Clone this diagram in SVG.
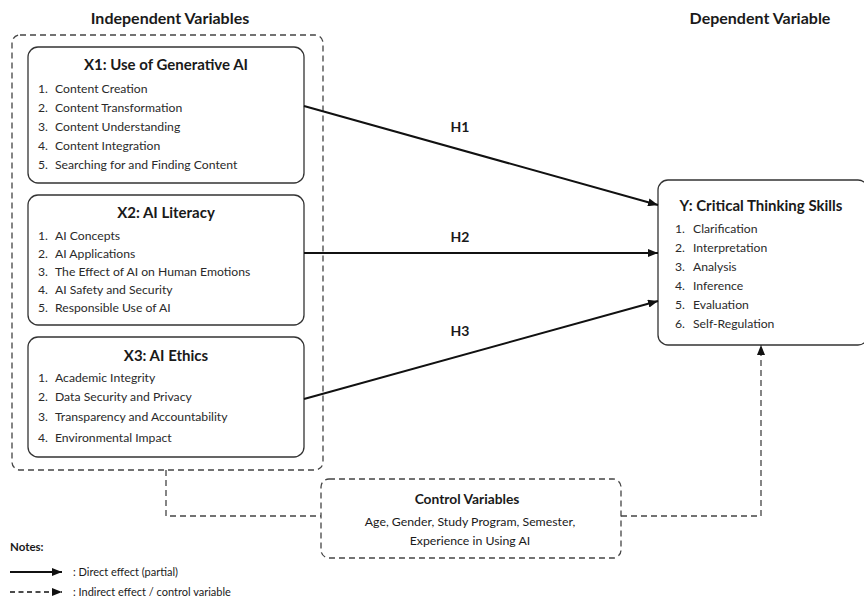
<svg xmlns="http://www.w3.org/2000/svg" width="864" height="599" viewBox="0 0 864 599">
<style>
text{font-family:Lato,"Open Sans","Liberation Sans",sans-serif;fill:#1a1a1a}
.h{font-size:16px;font-weight:bold;text-anchor:middle}
.t{font-size:15px;font-weight:bold;text-anchor:middle}
.i{font-size:12.2px;fill:#2a2a2a}
.lab{font-size:14px;font-weight:bold;text-anchor:middle}
.box{fill:#fff;stroke:#333;stroke-width:1.3}
.dash{fill:none;stroke:#444;stroke-width:1.3;stroke-dasharray:6,4}
.arr{stroke:#111;stroke-width:2;fill:none}
.note{font-size:11px}
</style>
<defs>
<marker id="ah" viewBox="0 0 10 8" refX="10" refY="4" markerWidth="10" markerHeight="8" markerUnits="userSpaceOnUse" orient="auto"><path d="M0,0L10,4L0,8z" fill="#111"/></marker>
</defs>
<rect width="864" height="599" fill="#fff"/>
<text class="h" x="170" y="24">Independent Variables</text>
<text class="h" x="760" y="24">Dependent Variable</text>
<g id="iv-group"><rect class="dash" x="12" y="35" width="311" height="435" rx="8"/></g>
<g id="x1">
<rect class="box" x="28" y="47" width="276" height="136" rx="10"/>
<text class="t" x="166" y="70">X1: Use of Generative AI</text>
<text class="i" x="38" y="93">1.</text><text class="i" x="55" y="93">Content Creation</text>
<text class="i" x="38" y="112">2.</text><text class="i" x="55" y="112">Content Transformation</text>
<text class="i" x="38" y="131">3.</text><text class="i" x="55" y="131">Content Understanding</text>
<text class="i" x="38" y="150">4.</text><text class="i" x="55" y="150">Content Integration</text>
<text class="i" x="38" y="169">5.</text><text class="i" x="55" y="169">Searching for and Finding Content</text>
</g>
<g id="x2">
<rect class="box" x="28" y="195" width="276" height="130" rx="10"/>
<text class="t" x="166" y="218">X2: AI Literacy</text>
<text class="i" x="38" y="240">1.</text><text class="i" x="55" y="240">AI Concepts</text>
<text class="i" x="38" y="258">2.</text><text class="i" x="55" y="258">AI Applications</text>
<text class="i" x="38" y="276">3.</text><text class="i" x="55" y="276">The Effect of AI on Human Emotions</text>
<text class="i" x="38" y="294">4.</text><text class="i" x="55" y="294">AI Safety and Security</text>
<text class="i" x="38" y="312">5.</text><text class="i" x="55" y="312">Responsible Use of AI</text>
</g>
<g id="x3">
<rect class="box" x="28" y="337" width="276" height="120" rx="10"/>
<text class="t" x="166" y="361">X3: AI Ethics</text>
<text class="i" x="38" y="382">1.</text><text class="i" x="55" y="382">Academic Integrity</text>
<text class="i" x="38" y="401">2.</text><text class="i" x="55" y="401">Data Security and Privacy</text>
<text class="i" x="38" y="421">3.</text><text class="i" x="55" y="421">Transparency and Accountability</text>
<text class="i" x="38" y="442">4.</text><text class="i" x="55" y="442">Environmental Impact</text>
</g>
<g id="y">
<rect class="box" x="658" y="180" width="210" height="165" rx="10"/>
<text class="t" x="761" y="211">Y: Critical Thinking Skills</text>
<text class="i" x="675" y="233">1.</text><text class="i" x="693" y="233">Clarification</text>
<text class="i" x="675" y="252">2.</text><text class="i" x="693" y="252">Interpretation</text>
<text class="i" x="675" y="271">3.</text><text class="i" x="693" y="271">Analysis</text>
<text class="i" x="675" y="290">4.</text><text class="i" x="693" y="290">Inference</text>
<text class="i" x="675" y="309">5.</text><text class="i" x="693" y="309">Evaluation</text>
<text class="i" x="675" y="328">6.</text><text class="i" x="693" y="328">Self-Regulation</text>
</g>
<g id="control">
<rect class="dash" x="321" y="479" width="300" height="79" rx="8"/>
<text class="lab" x="467" y="504" style="font-size:13.8px">Control Variables</text>
<text x="470" y="526" style="font-size:12.3px;text-anchor:middle">Age, Gender, Study Program, Semester,</text>
<text x="470" y="545" style="font-size:12.3px;text-anchor:middle">Experience in Using AI</text>
</g>
<g id="connectors">
<line class="arr" x1="304" y1="106" x2="658" y2="205" marker-end="url(#ah)"/>
<line class="arr" x1="304" y1="253" x2="658" y2="253" marker-end="url(#ah)"/>
<line class="arr" x1="304" y1="399" x2="658" y2="301" marker-end="url(#ah)"/>
<text class="lab" x="460" y="132">H1</text>
<text class="lab" x="460" y="242">H2</text>
<text class="lab" x="460" y="336">H3</text>
<path class="dash" d="M166,470V516H321"/>
<path class="dash" d="M621,516H761V345" marker-end="url(#ah)"/>
</g>
<g id="notes">
<text class="note" x="10" y="551" style="font-weight:bold;font-size:11.5px">Notes:</text>
<line class="arr" x1="10" y1="572" x2="62" y2="572" stroke-width="1.6" marker-end="url(#ah)"/>
<text class="note" x="73" y="576">: Direct effect (partial)</text>
<line x1="10" y1="592" x2="62" y2="592" stroke="#111" stroke-width="1.6" stroke-dasharray="5,3.5" marker-end="url(#ah)"/>
<text class="note" x="73" y="596">: Indirect effect / control variable</text>
</g>
</svg>
